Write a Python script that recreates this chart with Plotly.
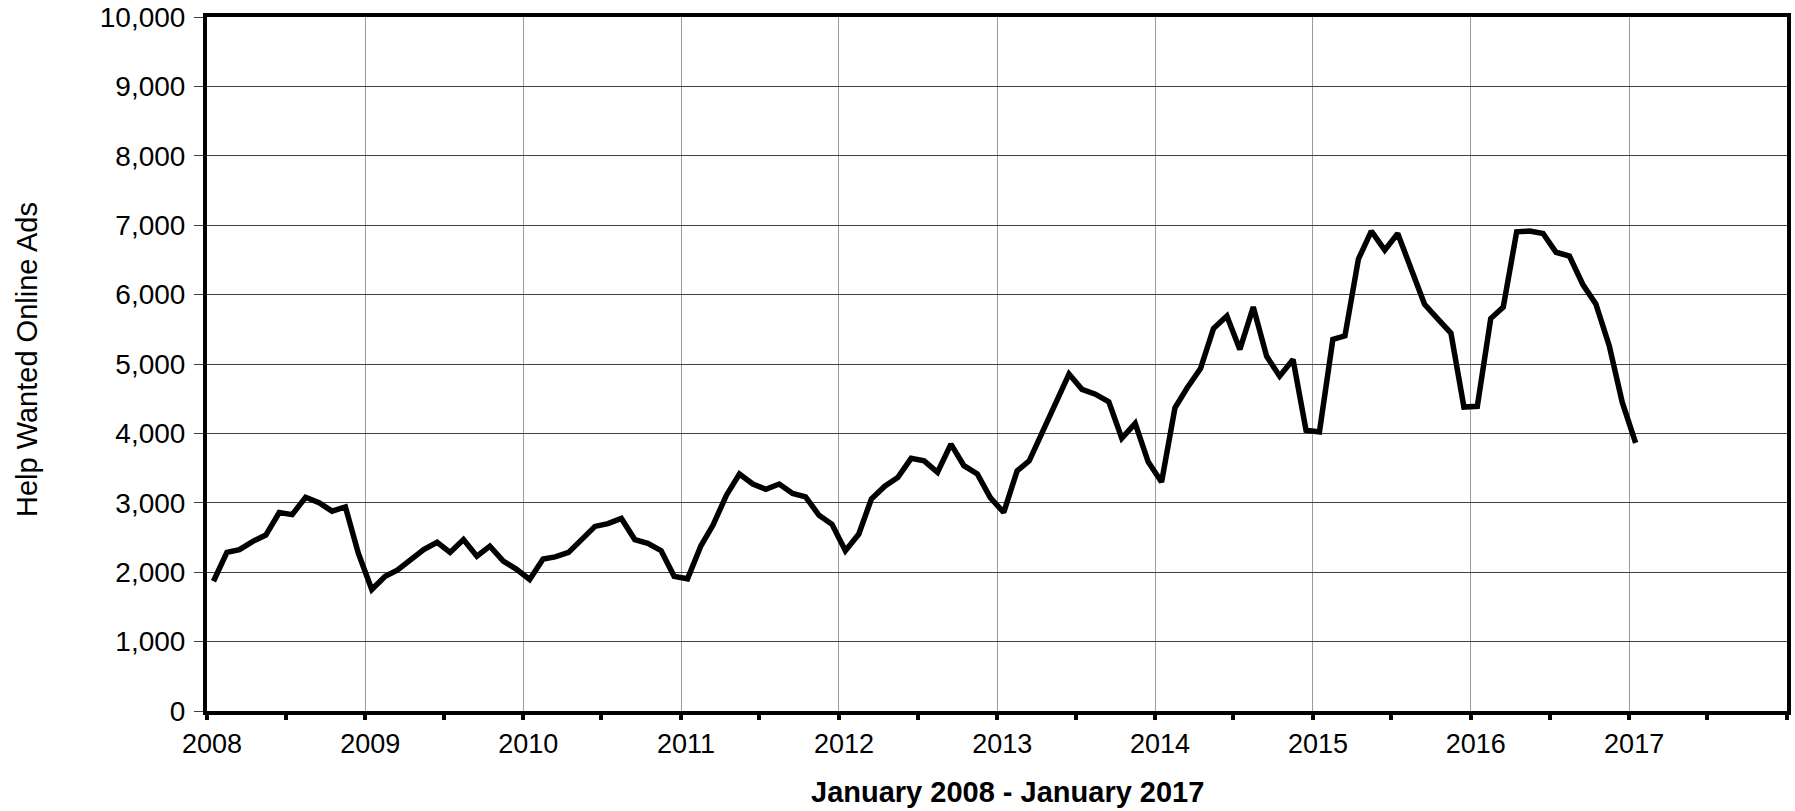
import pandas as pd
import plotly.graph_objects as go

# Monthly observations, January 2008 - January 2017
start_month = "2008-01-01"
ads_2008 = [1870, 2285, 2325, 2445, 2535, 2860, 2830, 3080, 3000, 2880, 2940, 2270]
ads_2009 = [1750, 1940, 2030, 2175, 2325, 2430, 2285, 2470, 2230, 2375, 2160, 2045]
ads_2010 = [1895, 2190, 2220, 2285, 2470, 2660, 2700, 2775, 2470, 2415, 2310, 1940]
ads_2011 = [1905, 2380, 2680, 3110, 3415, 3270, 3195, 3270, 3135, 3085, 2820, 2690]
ads_2012 = [2310, 2550, 3055, 3240, 3365, 3640, 3605, 3440, 3845, 3535, 3415, 3075]
ads_2013 = [2860, 3460, 3605, 4015, 4410, 4855, 4635, 4565, 4455, 3930, 4145, 3590]
ads_2014 = [3300, 4370, 4655, 4935, 5510, 5690, 5210, 5820, 5110, 4825, 5065, 4045]
ads_2015 = [4020, 5355, 5405, 6510, 6915, 6640, 6880, 6375, 5860, 5655, 5445, 4380]
ads_2016 = [4390, 5655, 5820, 6905, 6915, 6880, 6610, 6555, 6145, 5865, 5265, 4450]
ads_2017 = [3865]

values = (ads_2008 + ads_2009 + ads_2010 + ads_2011 + ads_2012 + ads_2013
          + ads_2014 + ads_2015 + ads_2016 + ads_2017)

year_ticks = [str(y) for y in range(2008, 2019)]
year_labels = [str(y) for y in range(2008, 2018)] + [""]
y_ticks = list(range(0, 10001, 1000))
y_labels = [f"{v:,}" for v in y_ticks]

y_title = "Help Wanted Online Ads"
x_title = "January 2008 - January 2017"

# points sit in the middle of each month
months = pd.date_range(start_month, periods=len(values), freq="MS") + pd.Timedelta(days=15)

W, H = 1795, 811
L, R, T, B = 207, 8, 17, 100
PW, PH = W - L - R, H - T - B

fig = go.Figure()
fig.add_trace(go.Scatter(
    x=months, y=values, mode="lines",
    line=dict(color="black", width=5.5),
    hoverinfo="x+y", showlegend=False,
))

font_family = "Liberation Sans, Arial, sans-serif"

fig.update_layout(
    width=W, height=H,
    margin=dict(l=L, r=R, t=T, b=B, autoexpand=False),
    paper_bgcolor="white", plot_bgcolor="white",
    font=dict(family=font_family, color="black", size=27),
    xaxis=dict(
        type="date",
        range=[year_ticks[0] + "-01-01", year_ticks[-1] + "-01-01"],
        tickvals=[y + "-01-01" for y in year_ticks],
        ticktext=year_labels,
        ticks="outside", ticklen=5, tickwidth=3.5, tickcolor="black",
        showgrid=True, gridcolor="#9a9a9a", gridwidth=1,
        showline=True, linecolor="black", linewidth=4, mirror=True,
        zeroline=False,
        ticklabelshift=5, ticklabelstandoff=1,
        ticklabeloverflow="allow",
        tickfont=dict(size=27, family=font_family, color="black"),
        minor=dict(dtick="M6", tick0="2008-01-01", ticks="outside",
                   ticklen=5, tickwidth=3.5, tickcolor="black", showgrid=False),
    ),
    yaxis=dict(
        range=[0, 10000],
        tickvals=y_ticks, ticktext=y_labels,
        ticks="outside", ticklen=9, tickwidth=1, tickcolor="#404040",
        showgrid=True, gridcolor="#404040", gridwidth=1,
        showline=True, linecolor="black", linewidth=4, mirror=True,
        zeroline=False,
        ticklabelstandoff=3,
        ticklabeloverflow="allow",
        tickfont=dict(size=28, family=font_family, color="black"),
    ),
    annotations=[
        dict(text=y_title, textangle=-90, xref="paper", yref="paper",
             x=(27 - L) / PW, y=(T + PH - 360) / PH, xanchor="center", yanchor="middle",
             showarrow=False, font=dict(size=29, family=font_family, color="black")),
        dict(text="<b>" + x_title + "</b>", xref="paper", yref="paper",
             x=(1007 - L) / PW, y=-(792 - (T + PH)) / PH, xanchor="center", yanchor="middle",
             showarrow=False, font=dict(size=29, family=font_family, color="black")),
    ],
)

# remove the default page margin so the figure fills the window exactly
fig.write_html(
    "out.html",
    config={"displayModeBar": False},
    post_script="document.body.style.margin='0px';document.body.style.overflow='hidden';",
)
